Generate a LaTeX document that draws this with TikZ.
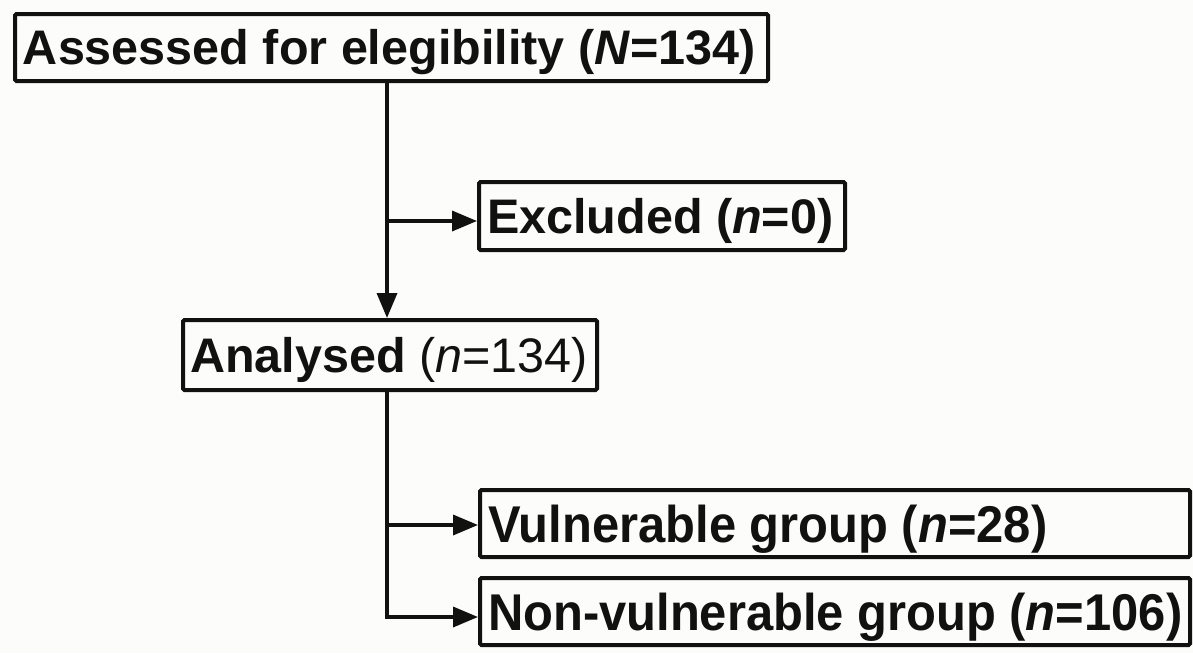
\documentclass[tikz,border=0pt]{standalone}
\usepackage{fontspec}
\usepackage{graphicx}
\setmainfont{Liberation Sans}
\usetikzlibrary{arrows.meta}
\definecolor{ink}{RGB}{17,17,15}
\definecolor{paper}{RGB}{252,252,250}
\newcommand{\bigfont}{\fontsize{48.5}{52}\selectfont\spaceskip=0pt\xspaceskip=0pt\relax}
\newcommand{\tallfont}{\fontsize{51.7}{55}\selectfont\spaceskip=0pt\xspaceskip=0pt\relax}
\newcommand{\narrow}[1]{\scalebox{0.946}[1]{#1}}
\begin{document}
\begin{tikzpicture}[x=1pt,y=1pt,
  box/.style={draw=ink, line width=4pt, rounded corners=1.5pt, anchor=west,
    inner xsep=8pt, inner ysep=0pt, align=left, text=ink,
    text height=34.7pt, text depth=0pt},
  tallbox/.style={box, text height=37pt},
  arr/.style={draw=ink, line width=3.5pt, line join=miter,
    -{Triangle[length=25pt,width=20pt]}},
  ln/.style={draw=ink, line width=3.5pt}]
\fill[paper] (0,0) rectangle (1193,-653);
\useasboundingbox (0,0) rectangle (1193,-653);

\node[box, text width=737pt, minimum height=67pt] (a) at (13,-47.5)
  {\bigfont\bfseries Assessed for elegibility (\textit{N}=134)};
\node[box, text width=350pt, minimum height=68pt] (b) at (477,-216)
  {\bigfont\bfseries Excluded (\textit{n}=0)};
\node[box, inner xsep=7pt, text width=400pt, minimum height=70pt] (c) at (181,-355)
  {\bigfont\textbf{Analysed} (\textit{n}=134)};
\node[tallbox, text width=694pt, minimum height=67pt] (v) at (478,-523.5)
  {\tallfont\bfseries\narrow{Vulnerable group (\textit{n}=28)}};
\node[tallbox, text width=694pt, minimum height=67pt] (nv) at (478,-611.5)
  {\tallfont\bfseries\narrow{Non-vulnerable group (\textit{n}=106)}};

\coordinate (x1) at (387,0);
\coordinate (j1) at (387,-221);
\coordinate (j2) at (387,-525);
\coordinate (j3) at (387,-617);

\draw[arr] (a.south -| x1) -- (c.north -| x1);
\draw[arr] (j1) -- (j1 -| b.west);
\draw[arr] (c.south -| x1) -- (j3) -- (j3 -| nv.west);
\draw[arr] (j2) -- (j2 -| v.west);
\end{tikzpicture}
\end{document}
